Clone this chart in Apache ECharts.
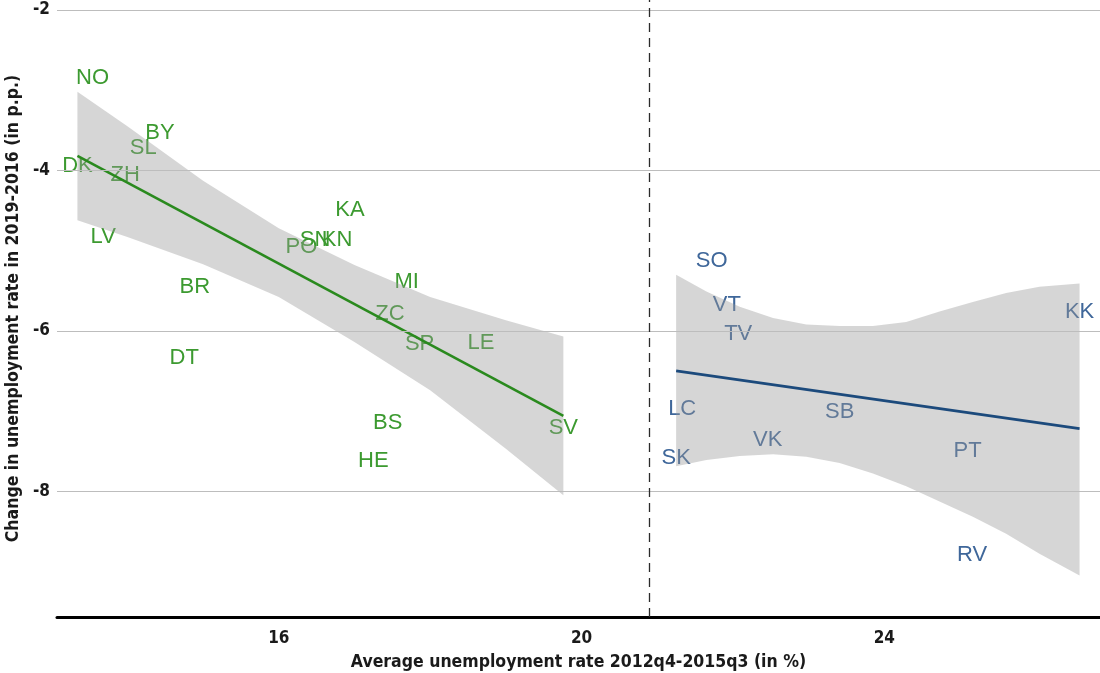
<!DOCTYPE html>
<html>
<head>
<meta charset="utf-8">
<style>
  html, body { margin: 0; padding: 0; background: #ffffff; }
  #chart { width: 1100px; height: 673px; }
</style>
<script src="https://cdn.jsdelivr.net/npm/echarts@6/dist/echarts.min.js"></script>
</head>
<body>
<div id="chart"></div>
<script>
// Regions below the threshold (green group)
const greenCodes = ['NO', 'BY', 'SL', 'DK', 'ZH', 'LV', 'KA', 'SN', 'KN', 'PO', 'BR', 'MI', 'ZC', 'SP', 'LE', 'DT', 'BS', 'HE', 'SV'];
const greenX = [13.54, 14.43, 14.21, 13.34, 13.97, 13.68, 16.94, 16.48, 16.77, 16.30, 14.89, 17.69, 17.47, 17.86, 18.67, 14.75, 17.44, 17.25, 19.76];
const greenY = [-2.85, -3.53, -3.72, -3.95, -4.06, -4.83, -4.49, -4.87, -4.87, -4.96, -5.45, -5.39, -5.79, -6.16, -6.15, -6.34, -7.15, -7.62, -7.21];

// Regions above the threshold (blue group)
const blueCodes = ['SO', 'VT', 'TV', 'KK', 'LC', 'SB', 'VK', 'SK', 'PT', 'RV'];
const blueX = [21.72, 21.92, 22.07, 26.58, 21.33, 23.41, 22.46, 21.25, 25.10, 25.16];
const blueY = [-5.13, -5.68, -6.04, -5.76, -6.97, -7.01, -7.36, -7.58, -7.50, -8.80];

// Fitted lines (end points)
const greenFitX = [13.34, 19.76];
const greenFitY = [-3.82, -7.06];
const blueFitX = [21.25, 26.58];
const blueFitY = [-6.50, -7.22];

// Confidence bands
const greenBandX = [13.34, 14.0, 15.0, 16.0, 17.0, 18.0, 19.0, 19.76];
const greenBandUpper = [-3.02, -3.45, -4.13, -4.72, -5.18, -5.58, -5.87, -6.07];
const greenBandLower = [-4.62, -4.83, -5.17, -5.58, -6.14, -6.74, -7.47, -8.05];

const blueBandX = [21.25, 21.65, 22.09, 22.53, 22.97, 23.41, 23.85, 24.29, 24.73, 25.17, 25.61, 26.05, 26.58];
const blueBandUpper = [-5.30, -5.51, -5.70, -5.84, -5.92, -5.94, -5.94, -5.89, -5.76, -5.64, -5.53, -5.45, -5.41];
const blueBandLower = [-7.69, -7.61, -7.56, -7.54, -7.57, -7.65, -7.78, -7.94, -8.13, -8.32, -8.53, -8.78, -9.05];

// Axis ticks and threshold
const xTicks = [16, 20, 24];
const yTicks = [-2, -4, -6, -8];
const threshold = 20.9;

const xTitle = 'Average unemployment rate 2012q4-2015q3 (in %)';
const yTitle = 'Change in unemployment rate in 2019-2016 (in p.p.)';

const GREEN_TEXT = '#3c9a30';
const GREEN_LINE = '#2a8a1e';
const BLUE_TEXT = '#3f679a';
const BLUE_LINE = '#1c4a7c';
const AXIS_FONT = "'Liberation Sans Narrow','DejaVu Sans Condensed','Arial Narrow',Arial,sans-serif";
const LABEL_FONT = "'Liberation Sans',Arial,Helvetica,sans-serif";

function zip(xs, ys) { return xs.map((x, i) => [x, ys[i]]); }

function textSeries(codes, xs, ys, color) {
  return {
    type: 'custom',
    z: 1,
    silent: true,
    data: xs.map((x, i) => [x, ys[i], i]),
    renderItem: function (params, api) {
      const p = api.coord([api.value(0), api.value(1)]);
      return {
        type: 'text',
        x: p[0], y: p[1],
        style: {
          text: codes[params.dataIndex],
          fill: color,
          font: '22px ' + LABEL_FONT,
          align: 'center',
          verticalAlign: 'middle'
        }
      };
    }
  };
}

function bandSeries(xs, upper, lower) {
  return {
    type: 'custom',
    z: 2,
    silent: true,
    data: [[xs[0], upper[0]]],
    renderItem: function (params, api) {
      const top = xs.map((x, i) => api.coord([x, upper[i]]));
      const bottom = xs.map((x, i) => api.coord([x, lower[i]])).reverse();
      return {
        type: 'polygon',
        shape: { points: top.concat(bottom) },
        style: { fill: 'rgba(153,153,153,0.4)' }
      };
    }
  };
}

function fitSeries(xs, ys, color) {
  return {
    type: 'line',
    z: 3,
    silent: true,
    symbol: 'none',
    data: zip(xs, ys),
    lineStyle: { color: color, width: 2.6 }
  };
}

const chart = echarts.init(document.getElementById('chart'), null, { renderer: 'canvas' });

chart.setOption({
  animation: false,
  backgroundColor: '#ffffff',
  grid: { left: 57, right: 0, top: 0, bottom: 56, containLabel: false, outerBoundsMode: 'none' },
  xAxis: {
    type: 'value',
    min: 13.07,
    max: 26.85,
    splitLine: { show: false },
    axisTick: { show: false },
    axisLine: { show: true, onZero: false, lineStyle: { color: '#000000', width: 3 } },
    axisLabel: {
      customValues: xTicks,
      margin: 13,
      color: '#1a1a1a',
      fontWeight: 'bold',
      fontSize: 17,
      fontFamily: AXIS_FONT
    },
    name: xTitle,
    nameLocation: 'middle',
    nameGap: 36,
    nameTextStyle: { color: '#1a1a1a', fontWeight: 'bold', fontSize: 17.5, fontFamily: AXIS_FONT }
  },
  yAxis: {
    type: 'value',
    min: -9.569,
    max: -1.875,
    splitLine: { show: false },
    axisTick: { show: false },
    axisLine: { show: false },
    axisLabel: {
      customValues: yTicks,
      margin: 7,
      color: '#1a1a1a',
      fontWeight: 'bold',
      fontSize: 17,
      fontFamily: AXIS_FONT
    },
    name: yTitle,
    nameLocation: 'middle',
    nameGap: 33,
    nameTextStyle: { color: '#1a1a1a', fontWeight: 'bold', fontSize: 17.5, fontFamily: AXIS_FONT }
  },
  series: [
    // horizontal gridlines
    {
      type: 'line',
      z: 0,
      data: [],
      markLine: {
        silent: true,
        symbol: 'none',
        animation: false,
        label: { show: false },
        lineStyle: { color: '#bdbdbd', width: 1.2, type: 'solid' },
        data: yTicks.map(v => ({ yAxis: v }))
      }
    },
    // threshold marker
    {
      type: 'line',
      z: 4,
      data: [],
      markLine: {
        silent: true,
        symbol: 'none',
        animation: false,
        label: { show: false },
        lineStyle: { color: '#2b2b2b', width: 1.3, type: [9, 6] },
        data: [{ xAxis: threshold }]
      }
    },
    textSeries(greenCodes, greenX, greenY, GREEN_TEXT),
    textSeries(blueCodes, blueX, blueY, BLUE_TEXT),
    bandSeries(greenBandX, greenBandUpper, greenBandLower),
    bandSeries(blueBandX, blueBandUpper, blueBandLower),
    fitSeries(greenFitX, greenFitY, GREEN_LINE),
    fitSeries(blueFitX, blueFitY, BLUE_LINE)
  ]
});
</script>
</body>
</html>
